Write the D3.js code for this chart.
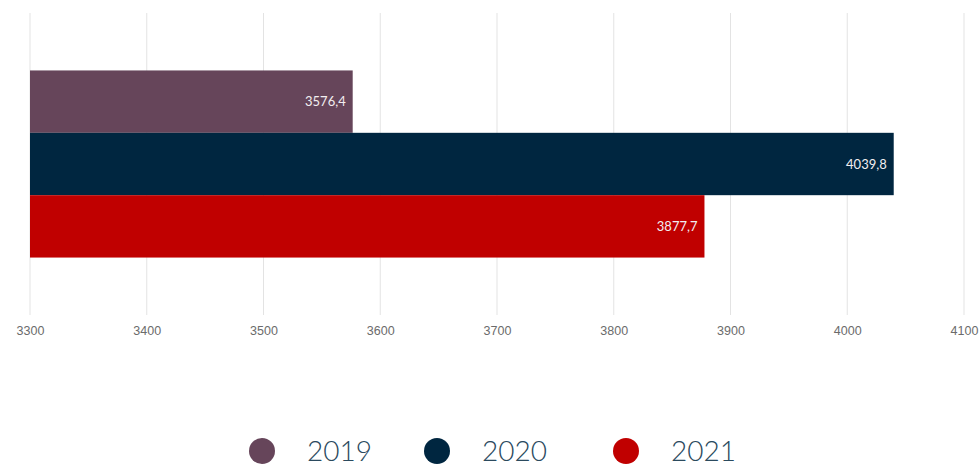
<!DOCTYPE html>
<html>
<head>
<meta charset="utf-8">
<script src="https://cdn.jsdelivr.net/npm/d3@7"></script>
<style>
  html, body { margin: 0; padding: 0; background: #fff; }
  svg { display: block; }
</style>
</head>
<body>
<svg id="chart" width="979" height="466"></svg>
<script>
// Data
const years = ["2019", "2020", "2021"];
const values = [3576.4, 4039.8, 3877.7];
const colors = ["#66455a", "#002640", "#c00000"];
const tickValues = [3300, 3400, 3500, 3600, 3700, 3800, 3900, 4000, 4100];
const group = ["total"];

const svg = d3.select("#chart");
const margin = { left: 30, right: 15, top: 13, bottom: 151 };
const W = 979, H = 466;

const x = d3.scaleLinear().domain([3300, 4100]).range([margin.left, W - margin.right]);
const y0 = d3.scaleBand().domain(group).range([margin.top, H - margin.bottom]).paddingInner(0).paddingOuter(0.307);
const y1 = d3.scaleBand().domain(years).range([0, y0.bandwidth()]).padding(0);

// Grid lines
svg.append("g")
  .selectAll("line")
  .data(tickValues)
  .join("line")
  .attr("x1", d => x(d)).attr("x2", d => x(d))
  .attr("y1", margin.top).attr("y2", H - margin.bottom)
  .attr("stroke", "#e3e3e3").attr("stroke-width", 1);

// Axis labels
const axis = d3.axisBottom(x).tickValues(tickValues).tickSize(0).tickPadding(0).tickFormat(d3.format("d"));
const ax = svg.append("g").attr("transform", `translate(0, ${H - margin.bottom + 11})`).call(axis);
ax.select(".domain").remove();
ax.selectAll("text")
  .attr("font-family", "Liberation Sans, Arial, sans-serif")
  .attr("font-size", 12.5)
  .attr("fill", "#6b6b6b");

// Bars
const rows = years.map((yr, i) => ({ year: yr, value: values[i], color: colors[i] }));
const g = svg.append("g").attr("transform", `translate(0, ${y0("total")})`);
g.selectAll("rect")
  .data(rows)
  .join("rect")
  .attr("x", x(3300))
  .attr("y", d => y1(d.year))
  .attr("width", d => x(d.value) - x(3300))
  .attr("height", y1.bandwidth())
  .attr("fill", d => d.color);

// Value labels
const fmt = v => d3.format(".1f")(v).replace(".", ",");
g.selectAll("text.val")
  .data(rows)
  .join("text")
  .attr("class", "val")
  .attr("x", d => x(d.value) - 7)
  .attr("y", d => y1(d.year) + y1.bandwidth() / 2)
  .attr("dy", "0.35em")
  .attr("text-anchor", "end")
  .attr("font-family", "Lato, 'Open Sans', sans-serif")
  .attr("font-size", 13)
  .attr("fill", "#f2eef0")
  .text(d => fmt(d.value));

// Legend
const legendX = [262, 437, 626];
const leg = svg.append("g");
rows.forEach((d, i) => {
  leg.append("circle")
    .attr("cx", legendX[i]).attr("cy", 451).attr("r", 13)
    .attr("fill", d.color);
  leg.append("text")
    .attr("x", legendX[i] + 45).attr("y", 461)
    .attr("font-family", "Lato, sans-serif")
    .attr("font-weight", 300)
    .attr("font-size", 28)
    .attr("fill", "#2b4a5e")
    .text(d.year);
});
</script>
</body>
</html>
